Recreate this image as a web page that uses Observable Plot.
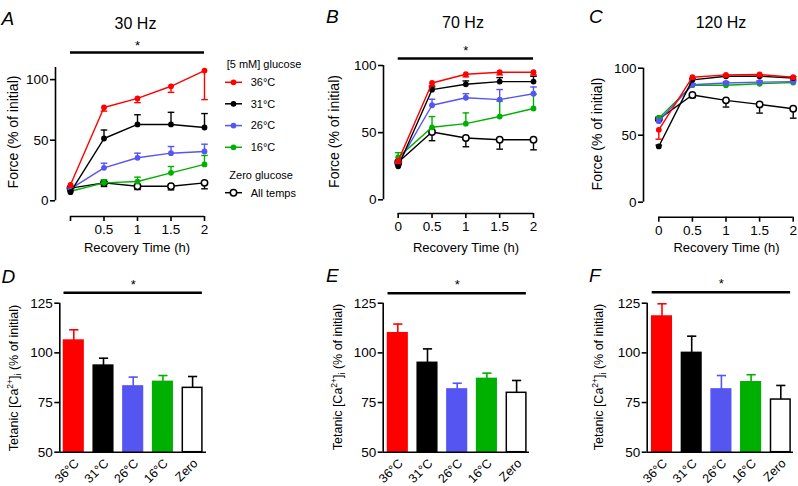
<!DOCTYPE html>
<html><head><meta charset="utf-8">
<script src="https://cdn.jsdelivr.net/npm/d3@7"></script>
<script src="https://cdn.jsdelivr.net/npm/@observablehq/plot@0.6"></script>
<style>
body{margin:0;background:#fff;}
#root{position:relative;width:798px;height:486px;overflow:hidden;font-family:"Liberation Sans",Arial,Helvetica,sans-serif;}
#root svg{position:absolute;overflow:visible;}
</style></head><body><div id="root"></div>
<script>
const FONT = '"Liberation Sans", Arial, Helvetica, sans-serif';

// ---------- data ----------
const times = [0, 0.5, 1, 1.5, 2];
const timeLabelsA = ["", "0.5", "1", "1.5", "2"];
const timeLabelsBC = ["0", "0.5", "1", "1.5", "2"];
const seriesNames = ["36°C", "31°C", "26°C", "16°C", "All temps"];
const seriesColors = ["#ff0000", "#000000", "#5555f2", "#00b000", "#000000"];
const errDirection = [-1, 1, 1, 1, -1];
const forceTicks = [0, 50, 100];

// 30 Hz
const hz30_36 = [13.2, 77, 84.5, 94.5, 107.5];
const hz30_36_sem = [2, 3, 3.5, 5, 24];
const hz30_31 = [7.1, 51.4, 63, 63, 60.5];
const hz30_31_sem = [1, 7, 8, 10, 11.5];
const hz30_26 = [9.9, 27.2, 35.5, 39.3, 40.7];
const hz30_26_sem = [1, 3.8, 3.8, 5.5, 6];
const hz30_16 = [7.9, 14.8, 15.9, 23.1, 30];
const hz30_16_sem = [1, 2.5, 3.6, 5.2, 7.4];
const hz30_zero = [10.5, 14.8, 12, 12, 14.8];
const hz30_zero_sem = [1, 3, 2.7, 3, 4.9];

// 70 Hz
const hz70_36 = [29, 87, 93.5, 95, 95];
const hz70_36_sem = [2, 2, 2, 2, 2];
const hz70_31 = [25, 82, 86, 88, 88];
const hz70_31_sem = [1, 2, 2.5, 3, 4];
const hz70_26 = [27, 70.4, 76, 74.6, 79];
const hz70_26_sem = [1, 4.5, 3, 7.5, 5];
const hz70_16 = [31.6, 54, 56.7, 62, 68];
const hz70_16_sem = [3.5, 8, 8, 11.5, 10.5];
const hz70_zero = [28, 50.5, 46, 44.7, 44.7];
const hz70_zero_sem = [2, 6.5, 6.5, 7, 7.5];

// 120 Hz
const hz120_36 = [54, 93.3, 95, 95.3, 93.3];
const hz120_36_sem = [7, 1.5, 1.5, 1.5, 1.5];
const hz120_31 = [41.6, 91.3, 94, 94, 92.7];
const hz120_31_sem = [1, 1, 1, 1, 1];
const hz120_26 = [60.5, 87.6, 89, 89.6, 90];
const hz120_26_sem = [1.5, 1, 1, 1, 1];
const hz120_16 = [62.7, 87.3, 87.3, 88.4, 89.3];
const hz120_16_sem = [1, 1, 1, 1, 1];
const hz120_zero = [62, 80, 76, 73, 69.7];
const hz120_zero_sem = [1, 2, 5, 6.5, 7];

// Tetanic [Ca2+]i bars
const barCats = ["36°C", "31°C", "26°C", "16°C", "Zero"];
const barFill = ["#ff0000", "#000000", "#5555f2", "#00b000", "#ffffff"];
const barStroke = ["#ff0000", "#000000", "#5555f2", "#00b000", "#000000"];
const caTicks = [50, 75, 100, 125];
const caD = [106.2, 93.6, 83.1, 85.4, 82.4];
const caD_sem = [5.4, 3.7, 4.7, 3.2, 5.7];
const caE = [109.9, 95, 81.6, 86.9, 79.9];
const caE_sem = [4.6, 7, 3.1, 2.9, 6.2];
const caF = [118.3, 100, 81.6, 85.2, 76.5];
const caF_sem = [6.4, 8.4, 7, 3.8, 7.1];

// text
const panelTitles = ["30 Hz", "70 Hz", "120 Hz"];
const panelLetters = ["A", "B", "C", "D", "E", "F"];
const forceLabel = "Force (% of initial)";
const timeLabel = "Recovery Time (h)";
const legendHeader1 = "[5 mM] glucose";
const legendHeader2 = "Zero glucose";

// ---------- helpers ----------
const root = document.getElementById("root");
const capSymbol = {draw(ctx, size) { const w = Math.sqrt(size / Math.PI); ctx.moveTo(-w, 0); ctx.lineTo(w, 0); }};

function place(svg, left, top) {
  svg.style.left = left + "px";
  svg.style.top = top + "px";
  root.appendChild(svg);
}

function linePanel(c) {
  const pxh = (c.x2px - c.x0px) / 2;
  const xmin = -(c.x0px - c.axisXpx) / pxh;
  const pxu = (c.y0px - c.yTopPx) / c.yTop;
  const ymin = -(c.axisYpx - c.y0px) / pxu;
  const order = [4, 3, 2, 1, 0];
  const marks = [
    Plot.ruleX([xmin], {y1: 0, y2: c.yTop, stroke: "#000", strokeWidth: 1.6}),
    Plot.ruleY([ymin], {x1: times[0], x2: times[times.length - 1], stroke: "#000", strokeWidth: 1.6}),
    Plot.axisY({ticks: forceTicks, tickSize: 5, tickPadding: 2, fontSize: 13.5, label: null, strokeWidth: 1.6}),
    Plot.axisX({ticks: times, tickFormat: d => c.tickLabels[times.indexOf(d)], tickSize: 5, tickPadding: 3, fontSize: 13.5, label: null, strokeWidth: 1.6})
  ];
  for (const s of order) {
    const rows = times.map((t, i) => ({t, v: c.vals[s][i], e: c.sems[s][i], end: c.vals[s][i] + errDirection[s] * c.sems[s][i]}));
    const col = seriesColors[s];
    marks.push(
      Plot.ruleX(rows, {x: "t", y1: "v", y2: "end", stroke: col, strokeWidth: 1.4}),
      Plot.dot(rows, {x: "t", y: "end", symbol: capSymbol, r: 3.3, stroke: col, strokeWidth: 1.4, fill: "none"}),
      Plot.line(rows, {x: "t", y: "v", stroke: col, strokeWidth: 1.4}),
      s === 4
        ? Plot.dot(rows, {x: "t", y: "v", r: 3.2, fill: "#fff", stroke: "#000", strokeWidth: 1.5})
        : Plot.dot(rows, {x: "t", y: "v", r: 2.9, fill: col, stroke: "none"})
    );
  }
  if (c.sig) {
    marks.push(
      Plot.ruleY([c.yTop], {x1: times[0], x2: times[times.length - 1], dy: c.sig.barDy, stroke: "#000", strokeWidth: 2.6}),
      Plot.text(["*"], {x: times[2], y: c.yTop, dy: c.sig.starDy, fontSize: 13, fill: "#000"})
    );
  }
  const svg = Plot.plot({
    width: c.width, height: c.height,
    marginLeft: c.axisXpx - c.left, marginRight: c.left + c.width - c.x2px,
    marginTop: c.yTopPx - c.top, marginBottom: c.top + c.height - c.axisYpx,
    x: {domain: [xmin, times[times.length - 1]]},
    y: {domain: [ymin, c.yTop]},
    style: {fontFamily: FONT, background: "transparent", color: "#000", overflow: "visible"},
    marks
  });
  place(svg, c.left, c.top);
}

function barPanel(c) {
  const xmin = -(c.firstCenterPx - c.axisXpx) / c.stepPx;
  const xmax = (c.frameRightPx - c.firstCenterPx) / c.stepPx;
  const hw = 0.33;
  const rows = barCats.map((k, i) => ({i, k, v: c.vals[i], end: c.vals[i] + c.sems[i], fill: barFill[i], stroke: barStroke[i]}));
  const idx = barCats.map((k, i) => i);
  const marks = [
    Plot.rectY(rows, {x1: d => d.i - hw, x2: d => d.i + hw, y1: caTicks[0], y2: "v", fill: "fill", stroke: "stroke", strokeWidth: 1.5}),
    Plot.ruleX(rows, {x: "i", y1: "v", y2: "end", stroke: "stroke", strokeWidth: 1.6}),
    Plot.dot(rows, {x: "i", y: "end", symbol: capSymbol, r: 4.6, stroke: "stroke", strokeWidth: 1.6, fill: "none"}),
    Plot.ruleX([xmin], {y1: caTicks[0], y2: caTicks[caTicks.length - 1], stroke: "#000", strokeWidth: 1.6}),
    Plot.ruleY([caTicks[0]], {x1: xmin, x2: xmax, stroke: "#000", strokeWidth: 1.6}),
    Plot.axisY({ticks: caTicks, tickSize: 5, tickPadding: 2, fontSize: 13.5, label: null, strokeWidth: 1.6}),
    Plot.axisX({ticks: idx, tickFormat: d => barCats[d], tickSize: 0, tickPadding: 9, dx: 3, tickRotate: -45, fontSize: 12.5, label: null}),
    Plot.ruleY([caTicks[caTicks.length - 1]], {x1: -hw, x2: idx[idx.length - 1] + hw, dy: c.barDy, stroke: "#000", strokeWidth: 2.6}),
    Plot.text(["*"], {x: idx[2], y: caTicks[caTicks.length - 1], dy: c.starDy, fontSize: 13, fill: "#000"})
  ];
  const svg = Plot.plot({
    width: c.width, height: c.height,
    marginLeft: c.axisXpx - c.left, marginRight: c.left + c.width - c.frameRightPx,
    marginTop: c.y125px - c.top, marginBottom: c.top + c.height - c.y50px,
    x: {domain: [xmin, xmax]},
    y: {domain: [caTicks[0], caTicks[caTicks.length - 1]]},
    style: {fontFamily: FONT, background: "transparent", color: "#000", overflow: "visible"},
    marks
  });
  place(svg, c.left, c.top);
}

// ---------- panels ----------
linePanel({left: 0, top: 0, width: 220, height: 245, axisXpx: 55, x0px: 70, x2px: 204, axisYpx: 216, y0px: 200.3, yTopPx: 67, yTop: 110,
  vals: [hz30_36, hz30_31, hz30_26, hz30_16, hz30_zero], sems: [hz30_36_sem, hz30_31_sem, hz30_26_sem, hz30_16_sem, hz30_zero_sem],
  tickLabels: timeLabelsA, sig: {barDy: -15, starDy: -22}});
linePanel({left: 300, top: 0, width: 245, height: 245, axisXpx: 383, x0px: 397.7, x2px: 533, axisYpx: 213, y0px: 199.3, yTopPx: 65, yTop: 100,
  vals: [hz70_36, hz70_31, hz70_26, hz70_16, hz70_zero], sems: [hz70_36_sem, hz70_31_sem, hz70_26_sem, hz70_16_sem, hz70_zero_sem],
  tickLabels: timeLabelsBC, sig: {barDy: -7, starDy: -15}});
linePanel({left: 560, top: 0, width: 238, height: 245, axisXpx: 643, x0px: 658.3, x2px: 792.7, axisYpx: 216.7, y0px: 201.7, yTopPx: 67.7, yTop: 100,
  vals: [hz120_36, hz120_31, hz120_26, hz120_16, hz120_zero], sems: [hz120_36_sem, hz120_31_sem, hz120_26_sem, hz120_16_sem, hz120_zero_sem],
  tickLabels: timeLabelsBC, sig: null});

barPanel({left: 0, top: 255, width: 215, height: 231, axisXpx: 59.3, firstCenterPx: 73.3, stepPx: 29.7, frameRightPx: 206, y125px: 302.7, y50px: 451.7,
  vals: caD, sems: caD_sem, barDy: -10.4, starDy: -18});
barPanel({left: 320, top: 255, width: 215, height: 231, axisXpx: 382.7, firstCenterPx: 397.3, stepPx: 29.7, frameRightPx: 529, y125px: 302.7, y50px: 451.7,
  vals: caE, sems: caE_sem, barDy: -10, starDy: -18});
barPanel({left: 590, top: 255, width: 208, height: 231, axisXpx: 646.7, firstCenterPx: 661.5, stepPx: 29.7, frameRightPx: 793, y125px: 302.7, y50px: 451.7,
  vals: caF, sems: caF_sem, barDy: -11, starDy: -19});

// ---------- overlay text & legend ----------
const ov = d3.select(root).append("svg").attr("width", 798).attr("height", 486)
  .style("left", "0px").style("top", "0px").style("pointer-events", "none")
  .style("font-family", FONT);

const letterPos = [[1.5, 25], [326, 23], [589, 23], [1.5, 282.5], [326, 282], [589, 282]];
panelLetters.forEach((L, i) => ov.append("text").attr("x", letterPos[i][0]).attr("y", letterPos[i][1])
  .attr("font-size", 19).attr("font-style", "italic").text(L));

const titlePos = [[135.5, 28.5], [463, 28], [721, 28]];
panelTitles.forEach((t, i) => ov.append("text").attr("x", titlePos[i][0]).attr("y", titlePos[i][1])
  .attr("font-size", 16).attr("text-anchor", "middle").text(t));

const forcePos = [[13, 132], [334, 131.5], [597, 134]];
forcePos.forEach(([x, y]) => ov.append("text").attr("transform", `translate(${x},${y}) rotate(-90)`)
  .attr("dy", "0.35em").attr("font-size", 14).attr("text-anchor", "middle").text(forceLabel));

const timePos = [[137, 247], [466, 247], [726.5, 247]];
timePos.forEach(([x, y]) => ov.append("text").attr("x", x).attr("y", y).attr("dy", "0.35em")
  .attr("font-size", 13).attr("text-anchor", "middle").text(timeLabel));

const caPos = [[13.5, 378], [337.5, 377], [599, 377]];
caPos.forEach(([x, y]) => {
  const t = ov.append("text").attr("transform", `translate(${x},${y}) rotate(-90)`)
    .attr("dy", "0.35em").attr("font-size", 12.5).attr("text-anchor", "middle");
  t.append("tspan").text("Tetanic [Ca");
  t.append("tspan").attr("font-size", 8.5).attr("dy", -5).text("2+");
  t.append("tspan").attr("dy", 5).text("]");
  t.append("tspan").attr("font-size", 8.5).attr("dy", 3).text("i");
  t.append("tspan").attr("dy", -3).text(" (% of initial)");
});

// legend
const lg = ov.append("g").attr("font-size", 11);
lg.append("text").attr("x", 226.7).attr("y", 64).attr("dy", "0.35em").text(legendHeader1);
const itemY = [82.3, 103.8, 125.6, 147.3];
for (let s = 0; s < 4; s++) {
  lg.append("line").attr("x1", 225).attr("x2", 242).attr("y1", itemY[s]).attr("y2", itemY[s])
    .attr("stroke", seriesColors[s]).attr("stroke-width", 1.5);
  lg.append("circle").attr("cx", 233.5).attr("cy", itemY[s]).attr("r", 2.9).attr("fill", seriesColors[s]);
  lg.append("text").attr("x", 250.7).attr("y", itemY[s]).attr("dy", "0.35em").text(seriesNames[s]);
}
lg.append("text").attr("x", 229.3).attr("y", 175).attr("dy", "0.35em").text(legendHeader2);
lg.append("line").attr("x1", 225).attr("x2", 242).attr("y1", 192.7).attr("y2", 192.7).attr("stroke", "#000").attr("stroke-width", 1.5);
lg.append("circle").attr("cx", 233.5).attr("cy", 192.7).attr("r", 3.2).attr("fill", "#fff").attr("stroke", "#000").attr("stroke-width", 1.5);
lg.append("text").attr("x", 250.7).attr("y", 192.7).attr("dy", "0.35em").text(seriesNames[4]);
</script></body></html>
